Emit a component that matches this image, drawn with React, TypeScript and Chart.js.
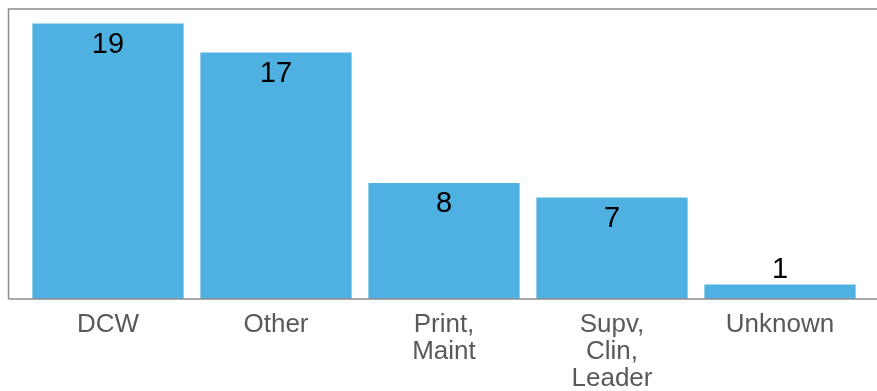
import React, { useEffect, useRef } from "react";
import { Chart, registerables } from "chart.js";

Chart.register(...registerables);

const categories: (string | string[])[] = ["DCW", "Other", ["Print,", "Maint"], ["Supv,", "Clin,", "Leader"], "Unknown"];
const values: number[] = [19, 17, 8, 7, 1];
const yMax = 20;

const BAR_COLOR = "#4FB1E1";
const BORDER_COLOR = "#8C8C8C";

const frameAndLabels = {
  id: "frameAndLabels",
  afterDatasetsDraw(chart: any) {
    const { ctx, chartArea } = chart;
    const meta = chart.getDatasetMeta(0);
    ctx.save();
    ctx.font = "29px 'Liberation Sans', Arial, sans-serif";
    ctx.fillStyle = "#000000";
    ctx.textAlign = "center";
    ctx.textBaseline = "alphabetic";
    meta.data.forEach((bar: any, i: number) => {
      const v = values[i];
      const h = bar.base - bar.y;
      const y = h > 40 ? bar.y + 29 : bar.y - 7;
      ctx.fillText(String(v), bar.x, y);
    });
    // frame (right edge falls outside the picture)
    ctx.strokeStyle = BORDER_COLOR;
    ctx.lineWidth = 1.5;
    ctx.beginPath();
    const l = 8.5;
    const t = chartArea.top;
    const b = chartArea.bottom;
    ctx.moveTo(l, b);
    ctx.lineTo(l, t);
    ctx.lineTo(877, t);
    ctx.moveTo(l, b);
    ctx.lineTo(877, b);
    ctx.stroke();
    ctx.restore();
  },
};

export default function App() {
  const ref = useRef<HTMLCanvasElement | null>(null);
  useEffect(() => {
    if (!ref.current) return;
    const chart = new Chart(ref.current, {
      type: "bar",
      data: {
        labels: categories as any,
        datasets: [
          {
            data: values,
            backgroundColor: BAR_COLOR,
            borderWidth: 0,
            barPercentage: 0.9,
            categoryPercentage: 1,
          },
        ],
      },
      options: {
        animation: false,
        responsive: false,
        maintainAspectRatio: false,
        layout: { padding: { left: 24, right: 13, top: 9, bottom: 0 } },
        plugins: {
          legend: { display: false },
          tooltip: { enabled: false },
        },
        scales: {
          x: {
            offset: true,
            grid: { display: false, drawTicks: false },
            border: { display: false },
            ticks: {
              color: "#595959",
              padding: 12,
              maxRotation: 0,
              autoSkip: false,
              font: { family: "'Liberation Sans', Arial, sans-serif", size: 26, lineHeight: 1.04 },
            },
            afterFit: (scale: any) => {
              scale.height = 92;
            },
          },
          y: {
            display: false,
            min: 0,
            max: yMax,
          },
        },
      },
      plugins: [frameAndLabels],
    });
    return () => chart.destroy();
  }, []);
  return (
    <div style={{ position: "fixed", left: 0, top: 0, width: 877, height: 391, background: "#fff" }}>
      <canvas ref={ref} width={877} height={391} style={{ display: "block", width: 877, height: 391 }} />
    </div>
  );
}
